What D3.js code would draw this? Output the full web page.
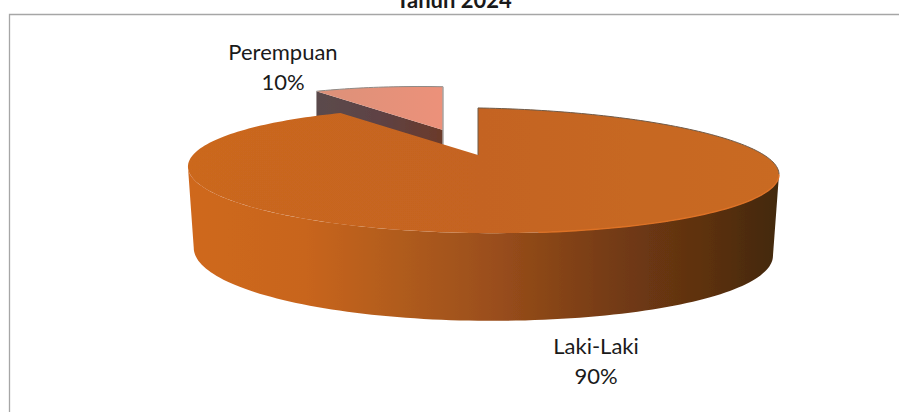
<!DOCTYPE html>
<meta charset="utf-8">
<html>
<head>
<title>Tahun 2024</title>
<style>
  body { margin: 0; background: #fff; }
  text { font-family: Lato, "Open Sans", sans-serif; fill: #1a1a1a; }
</style>
</head>
<body>
<div id="chart"></div>
<script src="https://d3js.org/d3.v7.min.js"></script>
<script>
var categories = ["Laki-Laki", "Perempuan"];
var values = [90, 10];
var percentLabels = ["90%", "10%"];
var title = "Tahun 2024";

var width = 899, height = 412;

var svg = d3.select("#chart").append("svg")
    .attr("width", width)
    .attr("height", height)
    .style("display", "block");

var defs = svg.append("defs");

// slight blur, the reference is an upscaled picture
defs.append("filter").attr("id", "soft")
    .append("feGaussianBlur").attr("stdDeviation", 0.6);

function gradient(id, stops) {
  var g = defs.append("linearGradient").attr("id", id)
      .attr("x1", "0").attr("x2", "1").attr("y1", "0").attr("y2", "0");
  stops.forEach(function(s) {
    g.append("stop").attr("offset", s[0]).attr("stop-color", s[1]);
  });
}
gradient("sideFill", [[0, "#cf681f"], [0.2, "#c8651f"], [0.38, "#ad5a1d"], [0.52, "#9a4e1b"],
                      [0.72, "#743b13"], [0.88, "#5c3010"], [1, "#42290f"]]);
gradient("topFill", [[0, "#cb671f"], [0.5, "#c46420"], [1, "#c96a22"]]);
gradient("pinkFill", [[0, "#dc9179"], [1, "#ec917a"]]);
gradient("wallFill", [[0, "#5a4a4c"], [0.5, "#5e4244"], [1, "#6b3a2a"]]);

// frame
svg.append("path")
    .attr("d", "M9.5," + height + "V14.5H" + width)
    .attr("fill", "none")
    .attr("stroke", "#a6a6a6")
    .attr("stroke-width", 1.3);

// projection of the 3D disc, u to the right and v to the back
var tilt = 0.248;
var xScale = d3.scaleLinear().domain([-1, 0, 1]).range([-281, 0, 291.6]);
var yScale = d3.scaleLinear().domain([-1, 1]).range([58.7, -58.7]);

function project(angle, apex, scale, drop) {
  var u = Math.sin(angle), v = Math.cos(angle);
  var w = 1 + tilt * v;
  var d = drop ? drop * (1 - 0.11 * v) : 0;
  var narrow = drop ? 0.98 : 1;
  return [apex[0] + scale * narrow * xScale(u) / w,
          apex[1] + scale * yScale(v) / w + 4 * u + d];
}

function sample(a0, a1) {
  var n = Math.max(2, Math.ceil(Math.abs(a1 - a0) * 40));
  return d3.range(n + 1).map(function(i) { return a0 + (a1 - a0) * i / n; });
}

var line = d3.line();
var arcs = d3.pie().sort(null)(values);
var male = arcs[0], female = arcs[1];

var mainApex = [478, 155], femaleApex = [443, 130];
var femaleScale = 0.92;
var depth = 79;

var g = svg.append("g").attr("filter", "url(#soft)");

// exploded slice: wall first, then its top, the big slice covers the rest
var rimPoint = project(female.startAngle, femaleApex, femaleScale);
g.append("path")
    .attr("d", line([femaleApex, rimPoint, [rimPoint[0], rimPoint[1] + depth], [femaleApex[0], femaleApex[1] + depth]]) + "Z")
    .attr("fill", "url(#wallFill)");

var femaleTop = sample(female.startAngle, female.endAngle).map(function(a) {
  return project(a, femaleApex, femaleScale);
});
g.append("path")
    .attr("d", line([femaleApex].concat(femaleTop)) + "Z")
    .attr("fill", "url(#pinkFill)");
g.append("path")
    .attr("d", line(femaleTop))
    .attr("fill", "none")
    .attr("stroke", "#8f8a86")
    .attr("stroke-width", 1);
g.append("path")
    .attr("d", line([femaleTop[femaleTop.length - 1], [femaleApex[0], femaleApex[1] + depth]]))
    .attr("fill", "none")
    .attr("stroke", "#a9a5a2")
    .attr("stroke-width", 1.5);

// front wall of the big slice
var frontAngles = sample(Math.acos(-tilt), 2 * Math.PI - Math.acos(-tilt));
var topEdge = frontAngles.map(function(a) { return project(a, mainApex, 1); });
var bottomEdge = frontAngles.map(function(a) { return project(a, mainApex, 1, depth); });
g.append("path")
    .attr("d", line(topEdge.concat(bottomEdge.reverse())) + "Z")
    .attr("fill", "url(#sideFill)");

// top of the big slice
var maleTop = sample(male.startAngle, male.endAngle).map(function(a) {
  return project(a, mainApex, 1);
});
g.append("path")
    .attr("d", line([mainApex].concat(maleTop)) + "Z")
    .attr("fill", "url(#topFill)");

// thin dark rim along the back and the notch
var backAngles = sample(male.startAngle, Math.acos(-tilt));
g.append("path")
    .attr("d", line([mainApex].concat(backAngles.map(function(a) { return project(a, mainApex, 1); }))))
    .attr("fill", "none")
    .attr("stroke", "#6f5a48")
    .attr("stroke-width", 1);

// lighter edge where the top meets the front on the right
var frontRight = sample(Math.PI * 0.95, Math.acos(-tilt));
g.append("path")
    .attr("d", line(frontRight.map(function(a) { return project(a, mainApex, 1); })))
    .attr("fill", "none")
    .attr("stroke", "#dd7226")
    .attr("stroke-width", 1.4);

// texts
svg.append("text")
    .attr("x", 454).attr("y", 8)
    .attr("text-anchor", "middle")
    .style("font-size", "22px").style("font-weight", "700")
    .text(title);

var labelX = [596, 283];
var labelY = [354, 60];
categories.forEach(function(name, i) {
  svg.append("text")
      .attr("x", labelX[i]).attr("y", labelY[i])
      .attr("text-anchor", "middle")
      .style("font-size", "22px")
      .text(name);
  svg.append("text")
      .attr("x", labelX[i]).attr("y", labelY[i] + 30)
      .attr("text-anchor", "middle")
      .style("font-size", "22px")
      .text(percentLabels[i]);
});
</script>
</body>
</html>
